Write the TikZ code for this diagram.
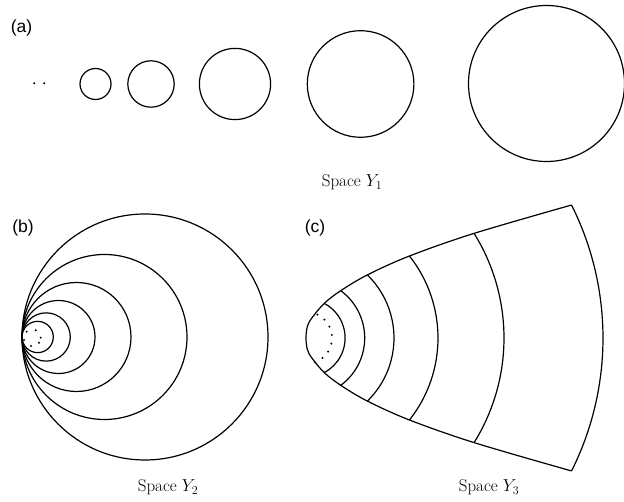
\documentclass[tikz,border=0pt]{standalone}
\usepackage{fontspec}
\newfontfamily\labelfont{Liberation Sans}
\begin{document}
\begin{tikzpicture}[x=1pt,y=1pt,
  ring/.style={draw=black, line width=1.2pt},
  dotmark/.style={fill=black},
  panel/.style={font=\labelfont\fontsize{17.5}{20}\selectfont, inner sep=0pt},
  caption/.style={font=\fontsize{17}{20}\selectfont, anchor=base, inner sep=0pt}]
\useasboundingbox (0,0) rectangle (624,502);

% ---------- (a) ----------
\node[panel] (la) at (21.5,474.5) {(a)};
\fill[dotmark] (34.3,418.7) circle[radius=1.1];
\fill[dotmark] (44.3,418.7) circle[radius=1.1];
\draw[ring] (95.5,418) circle[radius=15.5];
\draw[ring] (151,418) circle[radius=23.2];
\draw[ring] (235,418) circle[radius=35.6];
\draw[ring] (360.6,418) circle[radius=53.3];
\draw[ring] (546.5,418.5) circle[radius=78];
\node[caption] (ty1) at (352,315) {Space $Y_1$};

% ---------- (b) ----------
\node[panel] (lb) at (23,274) {(b)};
\foreach \d in {246,165,109,73,48.3,31.3}
  \draw[ring] ({22+\d/2},165) circle[radius={\d/2}];
\foreach \p in {(26.7,170.3),(35.7,171.7),(40.7,164.3),(39,159.3),(31,156),(24,162)}
  \fill[dotmark] \p circle[radius=1.1];
\node[caption] (ty2) at (168,10.3) {Space $Y_2$};

% ---------- (c) ----------
\node[panel] (lc) at (315,274) {(c)};
\begin{scope}[shift={(306,164)}]
  \draw[ring] plot[smooth, tension=0.55] coordinates {
    (-26.6:297) (-31.9:198) (-38.4:132) (-45.8:88) (-53.7:58.7) (-62.2:39.1)
    (-74:20.5) (-83.4:11.4) (0,0) (83.4:11.4) (74:20.5)
    (62.2:39.1) (53.7:58.7) (45.8:88) (38.4:132) (31.9:198) (26.6:297)};
  \foreach \r/\t in {297/26.6, 198/31.9, 132/38.4, 88/45.8, 58.7/53.7, 39.1/62.2}
    \draw[ring] (\t:\r) arc[start angle=\t, end angle=-\t, radius=\r];
  \foreach \a in {0,...,7}
    \fill[dotmark] ({64-19.1*\a}:26) circle[radius=1.1];
\end{scope}
\node[caption] (ty3) at (489,10.3) {Space $Y_3$};
\end{tikzpicture}
\end{document}
